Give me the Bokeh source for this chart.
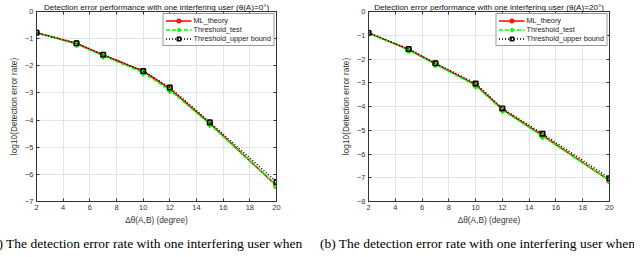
from bokeh.plotting import figure
from bokeh.layouts import row, column
from bokeh.models import LinearAxis, FixedTicker, Range1d, CustomJSTickFormatter, Div
from bokeh.embed import file_html
from bokeh.resources import INLINE

# ---- data ----
deg = [2, 5, 7, 10, 12, 15, 20]
x_ticks = [2, 4, 6, 8, 10, 12, 14, 16, 18, 20]

a_ml = [-0.78, -1.18, -1.60, -2.20, -2.85, -4.12, -6.42]
a_test = [-0.78, -1.20, -1.63, -2.25, -2.90, -4.15, -6.42]
a_ub = [-0.78, -1.17, -1.59, -2.19, -2.80, -4.08, -6.28]
a_yticks = [0, -1, -2, -3, -4, -5, -6, -7]

b_ml = [-0.90, -1.60, -2.20, -3.08, -4.12, -5.22, -7.12]
b_test = [-0.90, -1.62, -2.22, -3.12, -4.15, -5.25, -7.12]
b_ub = [-0.90, -1.58, -2.18, -3.03, -4.08, -5.15, -7.02]
b_yticks = [0, -1, -2, -3, -4, -5, -6, -7, -8]

names = ["ML_theory", "Threshold_test", "Threshold_upper bound"]
titles = ["Detection error performance with one interfering user (\u03b8(A)=0\u00b0)",
          "Detection error performance with one interfering user (\u03b8(A)=20\u00b0)"]
captions = ["(a) The detection error rate with one interfering user when",
            "(b) The detection error rate with one interfering user when"]
xlabel = "\u0394\u03b8(A,B) (degree)"
ylabel = "log10(Detection error rate)"

FONT = "Liberation Sans"
AXC = "#333333"
FH = 190


def panel(title, ml, test, ub, yticks, bl, br, fw):
    p = figure(frame_width=fw, frame_height=FH, title=title,
               min_border_left=bl, min_border_right=br,
               min_border_top=0, min_border_bottom=30,
               x_range=Range1d(2, 20), y_range=Range1d(min(yticks), 0),
               output_backend="svg", toolbar_location=None)
    p.title.text_font = FONT
    p.title.text_font_size = "8.1px"
    p.title.text_font_style = "normal"
    p.title.text_color = "#111111"
    p.title.align = "center"
    p.title.standoff = 0
    p.title.text_line_height = 0.8
    p.outline_line_color = AXC
    p.outline_line_width = 1
    p.background_fill_color = "white"
    p.border_fill_color = "white"

    for ax in (p.xaxis[0], p.yaxis[0]):
        ax.major_tick_in = 3
        ax.major_tick_out = 0
        ax.minor_tick_in = 0
        ax.minor_tick_out = 0
        ax.axis_line_color = AXC
        ax.major_tick_line_color = AXC
        ax.major_label_text_color = AXC
        ax.major_label_text_font = FONT
        ax.major_label_text_font_size = "7.5px"
        ax.axis_label_text_font = FONT
        ax.axis_label_text_font_size = "8.3px"
        ax.axis_label_text_font_style = "normal"
        ax.axis_label_text_color = AXC
    p.xaxis.ticker = FixedTicker(ticks=x_ticks)
    p.yaxis.ticker = FixedTicker(ticks=yticks)
    p.xaxis.axis_label = xlabel
    p.yaxis.axis_label = ylabel
    p.xaxis.major_label_standoff = 3
    p.yaxis.major_label_standoff = 3
    p.xaxis.axis_label_standoff = 2
    p.yaxis.axis_label_standoff = 3

    blank = CustomJSTickFormatter(code="return ''")
    top = LinearAxis(ticker=FixedTicker(ticks=x_ticks), formatter=blank,
                     major_tick_in=3, major_tick_out=0, minor_tick_in=0, minor_tick_out=0,
                     axis_line_color=AXC, major_tick_line_color=AXC,
                     major_label_standoff=0)
    right = LinearAxis(ticker=FixedTicker(ticks=yticks), formatter=blank,
                       major_tick_in=3, major_tick_out=0, minor_tick_in=0, minor_tick_out=0,
                       axis_line_color=AXC, major_tick_line_color=AXC,
                       major_label_standoff=0)
    p.add_layout(top, "above")
    p.add_layout(right, "right")

    p.grid.grid_line_color = "#e3e3e3"
    p.xgrid.ticker = FixedTicker(ticks=x_ticks)
    p.ygrid.ticker = FixedTicker(ticks=yticks)

    p.line(deg, ml, line_color="#ff0000", line_width=1.6, legend_label=names[0])
    p.scatter(deg, ml, marker="circle", size=5, line_color="#ff0000", fill_color=None,
              line_width=1.4, legend_label=names[0])
    p.line(deg, test, line_color="#00ff00", line_width=1.6, line_dash="4 2", legend_label=names[1])
    p.scatter(deg, test, marker="diamond", size=7, line_color="#00ff00", fill_color=None,
              line_width=1.4, legend_label=names[1])
    p.line(deg, ub, line_color="black", line_width=1.6, line_dash="1 2", legend_label=names[2])
    p.scatter(deg, ub, marker="square", size=4.5, line_color="black", fill_color=None,
              line_width=1.4, legend_label=names[2])

    lg = p.legend[0]
    lg.location = "top_right"
    lg.margin = 2
    lg.padding = 2
    lg.spacing = 0
    lg.label_text_font = FONT
    lg.label_text_font_size = "7.3px"
    lg.label_text_color = "#222222"
    lg.label_standoff = 2
    lg.glyph_height = 9
    lg.glyph_width = 26
    lg.label_height = 9
    lg.border_line_color = AXC
    lg.border_line_width = 1
    lg.background_fill_alpha = 1
    return p


def caption_div(text, shift, w):
    html = ('<div style="white-space:nowrap;font-family:\'Liberation Serif\';'
            'font-size:13.5px;line-height:18px;color:black;margin-left:%dpx">%s</div>'
            % (shift, text))
    return Div(text=html, width=w, height=20, margin=(4, 0, 0, 0),
               styles={"overflow": "hidden"})


p1 = panel(titles[0], a_ml, a_test, a_ub, a_yticks, 36, 42, 240)
p2 = panel(titles[1], b_ml, b_test, b_ub, b_yticks, 50, 21, 241)
d1 = caption_div(captions[0], -12, 318)
d2 = caption_div(captions[1], 2, 316)
layout = column(row(p1, p2, spacing=0), row(d1, d2, spacing=0), spacing=0)

open("out.html", "w").write(file_html(layout, INLINE))
